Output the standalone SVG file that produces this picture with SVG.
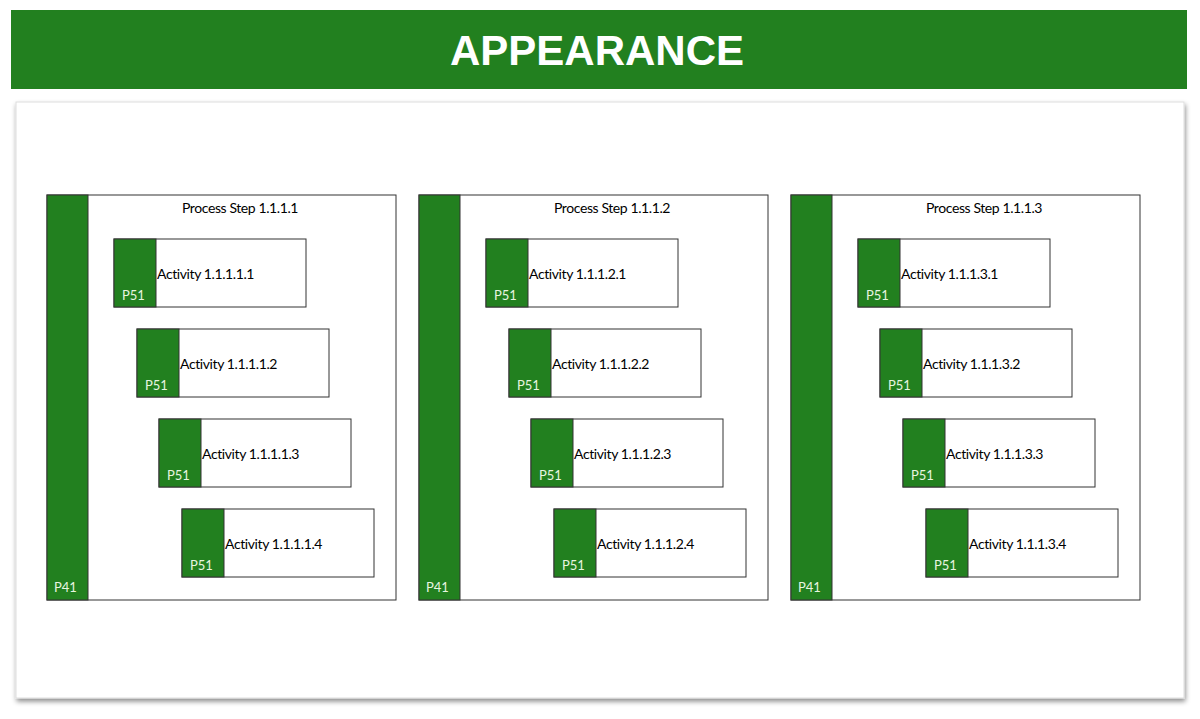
<svg xmlns="http://www.w3.org/2000/svg" width="1200" height="719" viewBox="0 0 1200 719">
<style>
.g{fill:#22801f}
.box{fill:#fff;stroke:#333;stroke-width:1}
.bar{fill:#22801f;stroke:#333;stroke-width:1}
.t{font-family:Lato,"Liberation Sans",sans-serif;font-size:14px;fill:#000;letter-spacing:-0.4px}
.w{font-family:Lato,"Liberation Sans",sans-serif;font-size:13px;fill:#e8f5e0}
.h{font-family:"Liberation Sans",Arial,sans-serif;font-size:42px;font-weight:bold;fill:#fff}
</style>
<defs>
<filter id="sh" x="-5%" y="-5%" width="110%" height="110%"><feDropShadow dx="1" dy="3" stdDeviation="2.5" flood-color="#000" flood-opacity="0.45"/></filter>
<g id="act"><rect class="box" x="0" y="0" width="192" height="68"/><rect class="bar" x="0" y="0" width="42" height="68"/></g>
</defs>
<rect width="1200" height="719" fill="#fff"/>
<g id="header"><rect class="g" x="11" y="10" width="1176" height="79"/><text class="h" x="597" y="65" text-anchor="middle">APPEARANCE</text></g>
<rect x="16" y="102" width="1168" height="596" fill="#fff" stroke="#ddd" filter="url(#sh)"/>
<g id="step1">
<rect class="box" x="47" y="195" width="349" height="405"/><rect class="bar" x="47" y="195" width="41" height="405"/>
<text class="w" x="54" y="592">P41</text>
<text class="t" x="240" y="213" text-anchor="middle">Process Step 1.1.1.1</text>
</g>
<g id="a111"><use href="#act" x="114" y="239"/><text class="t" x="157" y="279">Activity 1.1.1.1.1</text><text class="w" x="122" y="300">P51</text></g>
<g id="a112"><use href="#act" x="137" y="329"/><text class="t" x="180" y="369">Activity 1.1.1.1.2</text><text class="w" x="145" y="390">P51</text></g>
<g id="a113"><use href="#act" x="159" y="419"/><text class="t" x="202" y="459">Activity 1.1.1.1.3</text><text class="w" x="167" y="480">P51</text></g>
<g id="a114"><use href="#act" x="182" y="509"/><text class="t" x="225" y="549">Activity 1.1.1.1.4</text><text class="w" x="190" y="570">P51</text></g>
<g id="step2">
<rect class="box" x="419" y="195" width="349" height="405"/><rect class="bar" x="419" y="195" width="41" height="405"/>
<text class="w" x="426" y="592">P41</text>
<text class="t" x="612" y="213" text-anchor="middle">Process Step 1.1.1.2</text>
</g>
<g id="a121"><use href="#act" x="486" y="239"/><text class="t" x="529" y="279">Activity 1.1.1.2.1</text><text class="w" x="494" y="300">P51</text></g>
<g id="a122"><use href="#act" x="509" y="329"/><text class="t" x="552" y="369">Activity 1.1.1.2.2</text><text class="w" x="517" y="390">P51</text></g>
<g id="a123"><use href="#act" x="531" y="419"/><text class="t" x="574" y="459">Activity 1.1.1.2.3</text><text class="w" x="539" y="480">P51</text></g>
<g id="a124"><use href="#act" x="554" y="509"/><text class="t" x="597" y="549">Activity 1.1.1.2.4</text><text class="w" x="562" y="570">P51</text></g>
<g id="step3">
<rect class="box" x="791" y="195" width="349" height="405"/><rect class="bar" x="791" y="195" width="41" height="405"/>
<text class="w" x="798" y="592">P41</text>
<text class="t" x="984" y="213" text-anchor="middle">Process Step 1.1.1.3</text>
</g>
<g id="a131"><use href="#act" x="858" y="239"/><text class="t" x="901" y="279">Activity 1.1.1.3.1</text><text class="w" x="866" y="300">P51</text></g>
<g id="a132"><use href="#act" x="880" y="329"/><text class="t" x="923" y="369">Activity 1.1.1.3.2</text><text class="w" x="888" y="390">P51</text></g>
<g id="a133"><use href="#act" x="903" y="419"/><text class="t" x="946" y="459">Activity 1.1.1.3.3</text><text class="w" x="911" y="480">P51</text></g>
<g id="a134"><use href="#act" x="926" y="509"/><text class="t" x="969" y="549">Activity 1.1.1.3.4</text><text class="w" x="934" y="570">P51</text></g>
<g id="connectors"/>
</svg>
